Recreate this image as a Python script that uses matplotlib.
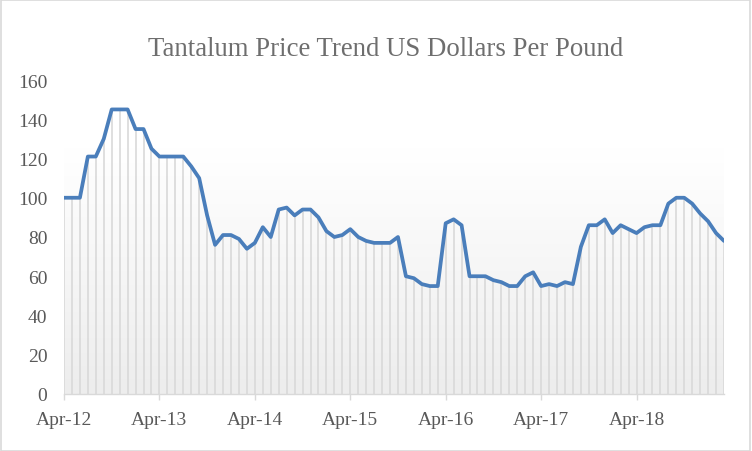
import matplotlib
matplotlib.use("Agg")
import matplotlib.pyplot as plt
import numpy as np
from matplotlib.colors import LinearSegmentedColormap
from matplotlib.patches import Rectangle

# Monthly tantalum prices, Apr-2012 .. Mar-2019 (USD per pound)
prices = [100, 100, 100, 121, 121, 130, 145, 145, 145, 135, 135, 125,
          121, 121, 121, 121, 116, 110, 91, 76, 81, 81, 79, 74,
          77, 85, 80, 94, 95, 91, 94, 94, 90, 83, 80, 81,
          84, 80, 78, 77, 77, 77, 80, 60, 59, 56, 55, 55,
          87, 89, 86, 60, 60, 60, 58, 57, 55, 55, 60, 62,
          55, 56, 55, 57, 56, 75, 86, 86, 89, 82, 86, 84,
          82, 85, 86, 86, 97, 100, 100, 97, 92, 88, 82, 78]
tick_labels = ["Apr-12", "Apr-13", "Apr-14", "Apr-15", "Apr-16", "Apr-17", "Apr-18"]
tick_months = [0, 12, 24, 36, 48, 60, 72]
y_ticks = [0, 20, 40, 60, 80, 100, 120, 140, 160]
title = "Tantalum Price Trend US Dollars Per Pound"

x = np.arange(len(prices))

fig = plt.figure(figsize=(7.52, 4.52), dpi=100)
ax = fig.add_axes([64/752, 1-395/452, 660/752, 314/452])

# gradient background
grad = np.linspace(0, 160, 400).reshape(-1, 1)
cmap = LinearSegmentedColormap.from_list("g", [(0, "#ededed"), (125/160, "#ffffff"), (1, "#ffffff")])
ax.imshow(grad, extent=[0, len(prices)-1, 0, 160], origin="lower", aspect="auto",
          cmap=cmap, vmin=0, vmax=160, zorder=0)

ax.vlines(x, 0, prices, colors="#d9d9d9", linewidth=1.2, zorder=1)
ax.plot(x, prices, color="#4a7ebb", linewidth=2.7, solid_joinstyle="round",
        solid_capstyle="round", zorder=3)

ax.set_xlim(0, len(prices)-1)
ax.set_ylim(0, 160)
ax.set_yticks(y_ticks)
ax.set_xticks(tick_months)
ax.set_xticklabels(tick_labels)

for s in ["top", "right", "left"]:
    ax.spines[s].set_visible(False)
ax.spines["bottom"].set_color("#d9d9d9")
ax.spines["bottom"].set_linewidth(1.0)
ax.spines["bottom"].set_zorder(4)

font = "Liberation Serif"
ax.tick_params(axis="y", length=0, pad=12, labelsize=14, labelcolor="#595959")
ax.tick_params(axis="x", length=4, width=1, color="#d9d9d9", pad=8,
               labelsize=14, labelcolor="#595959")
for lab in ax.get_xticklabels() + ax.get_yticklabels():
    lab.set_fontfamily(font)

fig.text(386/752, 1-49/452, title, ha="center", va="center", fontsize=19.3,
         color="#6e6e6e", family=font)

fig.patches.append(Rectangle((0.001, 0.001), 0.997, 0.996, transform=fig.transFigure,
                             fill=False, edgecolor="#d9d9d9", linewidth=1.2))

fig.savefig("out.png", dpi=100)
